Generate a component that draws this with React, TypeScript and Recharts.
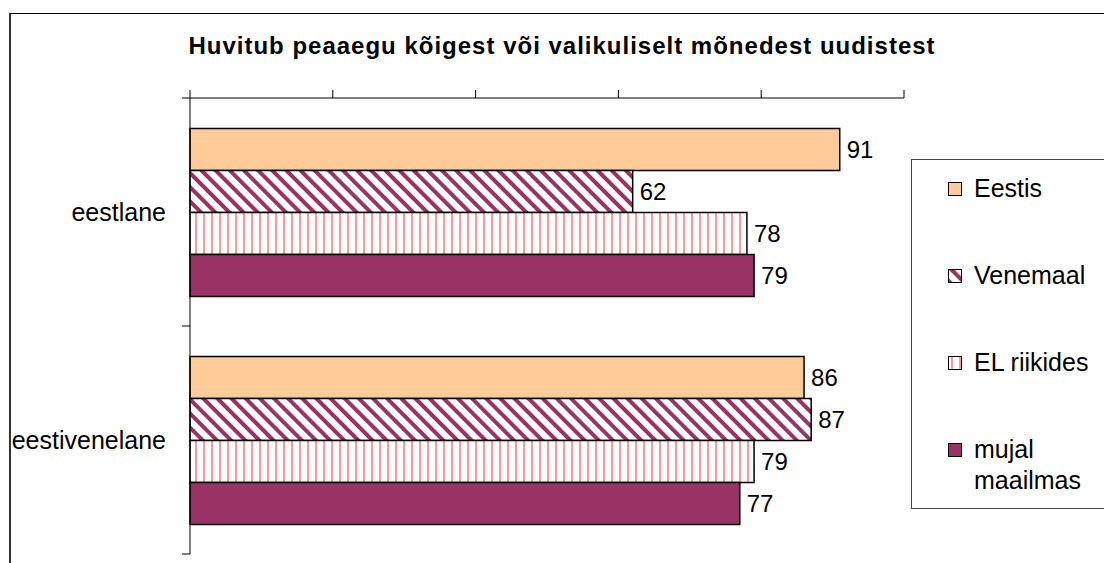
import React from "react"
import { Bar, BarChart, XAxis, YAxis, LabelList, Legend } from "recharts"

const categories = ["eestlane", "eestivenelane"]
const seriesNames = ["Eestis", "Venemaal", "EL riikides", "mujal maailmas"]
const eestis = [91, 86]
const venemaal = [62, 87]
const elRiikides = [78, 79]
const mujal = [79, 77]
const xTicks = [0, 20, 40, 60, 80, 100]

const data = categories.map((name, i) => ({
  name,
  eestis: eestis[i],
  venemaal: venemaal[i],
  el: elRiikides[i],
  mujal: mujal[i],
}))

const FONT = "'Liberation Sans', Arial, sans-serif"
const LABEL_GAP = 24

const series = [
  { key: "eestis", name: seriesNames[0], fill: "#FFCC99" },
  { key: "venemaal", name: seriesNames[1], fill: "url(#diag)" },
  { key: "el", name: seriesNames[2], fill: "url(#vert)" },
  { key: "mujal", name: seriesNames[3], fill: "#993366" },
]

function Patterns() {
  return (
    <defs>
      <pattern id="diag" patternUnits="userSpaceOnUse" width="10" height="10" patternTransform="rotate(-45)">
        <rect width="10" height="10" fill="#fff" />
        <rect x="0" width="4" height="10" fill="#993366" />
      </pattern>
      <pattern id="vert" patternUnits="userSpaceOnUse" width="8" height="10">
        <rect width="8" height="10" fill="#fff" />
        <rect x="3" width="2" height="10" fill="#ff9999" />
      </pattern>
    </defs>
  )
}

// category label plus the boundary tick marks between categories
function CategoryTick(props: any) {
  const { x, y, payload, index, visibleTicksCount } = props
  const half = payload.offset || 0
  const axisX = x + LABEL_GAP
  return (
    <g>
      <line x1={axisX - 8} x2={axisX} y1={y - half} y2={y - half} stroke="#000" />
      {index === visibleTicksCount - 1 && (
        <line x1={axisX - 8} x2={axisX} y1={y + half} y2={y + half} stroke="#000" />
      )}
      <text x={x} y={y} dy="0.355em" textAnchor="end" fontSize={25} fill="#000" fontFamily={FONT}>
        {payload.value}
      </text>
    </g>
  )
}

function LegendBox() {
  return (
    <div
      style={{
        border: "1px solid #444",
        background: "#fff",
        width: 220,
        height: 350,
        boxSizing: "border-box",
        paddingTop: 13,
        paddingLeft: 36,
        fontFamily: FONT,
        fontSize: 25,
        lineHeight: "31px",
        color: "#000",
        textAlign: "left",
      }}
    >
      {series.map((s) => (
        <div key={s.key} style={{ display: "flex", alignItems: "flex-start", height: 87 }}>
          <svg width={14} height={14} style={{ marginTop: 9, marginRight: 12, flex: "none" }}>
            <rect x={0.5} y={0.5} width={13} height={13} fill={s.fill} stroke="#000" strokeWidth={1} />
          </svg>
          <span style={{ width: 130 }}>{s.name === "mujal maailmas" ? <>mujal<br />maailmas</> : s.name}</span>
        </div>
      ))}
    </div>
  )
}

export default function App() {
  return (
    <div style={{ position: "relative", width: 1112, height: 563, marginTop: -8, marginLeft: -8, overflow: "hidden", fontFamily: FONT }}>
      <div
        style={{
          position: "absolute",
          left: 9,
          top: 13,
          width: 1200,
          height: 700,
          borderTop: "1px solid #000",
          borderLeft: "2px solid #333",
        }}
      />
      <div
        style={{
          position: "absolute",
          left: 0,
          width: 1124,
          top: 32,
          textAlign: "center",
          fontSize: 24,
          letterSpacing: 1,
          fontWeight: "bold",
          color: "#000",
        }}
      >
        Huvitub peaaegu kõigest või valikuliselt mõnedest uudistest
      </div>
      <BarChart
        width={1112}
        height={563}
        data={data}
        layout="vertical"
        margin={{ top: 68, left: 10, right: 208, bottom: 9 }}
        barCategoryGap="13.4%"
        barGap={0}
        style={{ position: "absolute", left: 0, top: 0 }}
      >
        <Patterns />
        <YAxis
          dataKey="name"
          type="category"
          width={180}
          axisLine={{ stroke: "#000" }}
          tickLine={false}
          tickSize={0}
          tickMargin={LABEL_GAP}
          tick={<CategoryTick />}
        />
        <XAxis
          type="number"
          orientation="top"
          domain={[0, 100]}
          ticks={xTicks}
          tick={() => <g />}
          tickSize={8}
          height={30}
          axisLine={{ stroke: "#000" }}
          tickLine={{ stroke: "#000" }}
        />
        <Legend
          layout="horizontal"
          verticalAlign="middle"
          align="center"
          wrapperStyle={{ position: "absolute", left: 911, top: 159, width: 220, height: 350 }}
          content={() => <LegendBox />}
        />
        {series.map((s) => (
          <Bar key={s.key} dataKey={s.key} name={s.name} fill={s.fill} stroke="#000" strokeWidth={1.5} isAnimationActive={false}>
            <LabelList dataKey={s.key} position="right" offset={7} fill="#000" fontSize={24} fontFamily={FONT} />
          </Bar>
        ))}
      </BarChart>
    </div>
  )
}
